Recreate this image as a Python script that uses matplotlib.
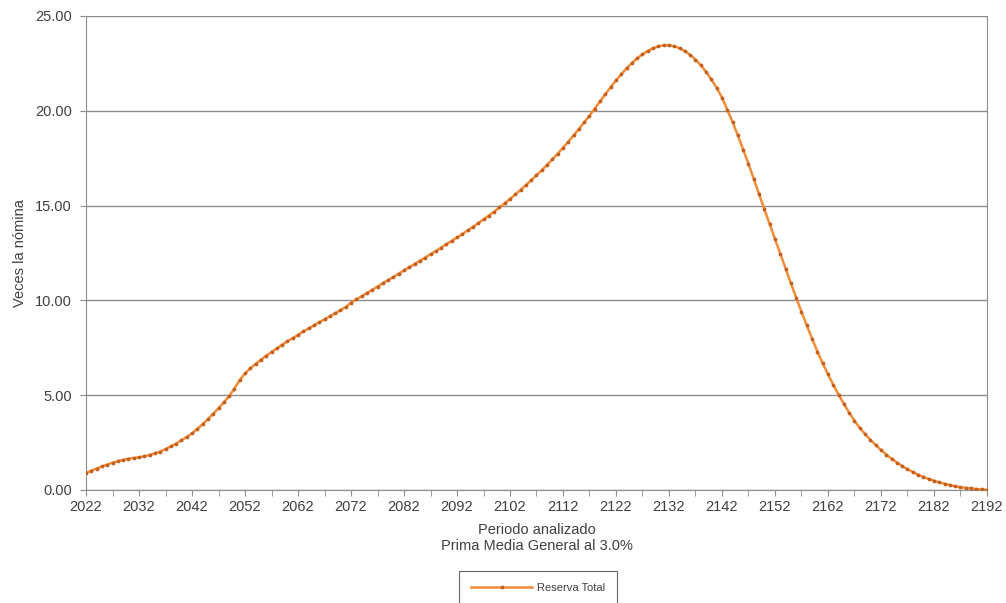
import matplotlib
matplotlib.use("Agg")
import matplotlib.pyplot as plt
from matplotlib.ticker import MultipleLocator, FormatStrFormatter

# years analysed, one point per year
years = list(range(2022, 2193))

# Reserva Total, in times the payroll
reserva_total = [
    0.90, 1.02, 1.13, 1.24, 1.34, 1.44, 1.52, 1.59, 1.65, 1.69,   # 2022-2031
    1.72, 1.78, 1.85, 1.93, 2.03, 2.16, 2.30, 2.45, 2.62, 2.80,   # 2032-2041
    2.99, 3.22, 3.47, 3.74, 4.02, 4.31, 4.62, 4.95, 5.35, 5.80,   # 2042-2051
    6.15, 6.42, 6.65, 6.87, 7.08, 7.28, 7.47, 7.66, 7.84, 8.01,   # 2052-2061
    8.18, 8.36, 8.52, 8.68, 8.84, 9.00, 9.16, 9.32, 9.48, 9.65,   # 2062-2071
    9.88, 10.05, 10.22, 10.39, 10.56, 10.73, 10.90, 11.07, 11.24, 11.41,   # 2072-2081
    11.58, 11.75, 11.92, 12.09, 12.26, 12.43, 12.60, 12.78, 12.96, 13.14,  # 2082-2091
    13.32, 13.50, 13.69, 13.88, 14.07, 14.27, 14.47, 14.68, 14.90, 15.12,  # 2092-2101
    15.35, 15.59, 15.83, 16.08, 16.34, 16.60, 16.87, 17.15, 17.44, 17.74,  # 2102-2111
    18.05, 18.37, 18.70, 19.04, 19.39, 19.75, 20.12, 20.50, 20.88, 21.25,  # 2112-2121
    21.60, 21.93, 22.24, 22.52, 22.77, 22.98, 23.16, 23.30, 23.40, 23.45,  # 2122-2131
    23.45, 23.40, 23.30, 23.15, 22.95, 22.70, 22.40, 22.05, 21.65, 21.20,  # 2132-2141
    20.70, 20.05, 19.40, 18.70, 17.95, 17.20, 16.40, 15.60, 14.80, 14.02,  # 2142-2151
    13.24, 12.46, 11.68, 10.90, 10.14, 9.40, 8.68, 7.98, 7.30, 6.68,       # 2152-2161
    6.10, 5.55, 5.03, 4.54, 4.08, 3.65, 3.27, 2.95, 2.65, 2.37,            # 2162-2171
    2.11, 1.87, 1.65, 1.45, 1.27, 1.10, 0.95, 0.81, 0.69, 0.58,            # 2172-2181
    0.49, 0.40, 0.33, 0.26, 0.20, 0.15, 0.11, 0.08, 0.05, 0.03,            # 2182-2191
    0.01,                                                                  # 2192
]
assert len(years) == len(reserva_total)

plt.rcParams["font.family"] = ["Liberation Sans", "DejaVu Sans"]
text_color = "#404040"

fig = plt.figure(figsize=(10.06, 6.03), dpi=100)
ax = fig.add_axes([0.0855, 0.1874, 0.8956, 0.7861])

ax.plot(years, reserva_total, color="#F28C38", linewidth=1.8,
        marker="o", markersize=1.7, markerfacecolor="#C4601E",
        markeredgecolor="#C4601E", label="Reserva Total", zorder=3)

ax.set_xlim(2022, 2192)
ax.set_ylim(0, 25)
ax.yaxis.set_major_locator(MultipleLocator(5))
ax.yaxis.set_major_formatter(FormatStrFormatter("%.2f"))
# labels every 10 years starting at 2022, small ticks in between
ax.set_xticks(years[::10])
ax.set_xticks(years[5::10], minor=True)

ax.grid(axis="y", color="#8c8c8c", linewidth=1.0)
ax.set_axisbelow(True)
for side in ["left", "bottom", "right"]:
    ax.spines[side].set_color("#8c8c8c")
ax.spines["top"].set_visible(False)

ax.tick_params(axis="both", which="both", colors="#8c8c8c",
               labelcolor=text_color, labelsize=10.5, length=4)
ax.tick_params(axis="y", pad=6)

ax.set_xlabel("Periodo analizado\nPrima Media General al 3.0%",
              color=text_color, fontsize=10.5, labelpad=6)
ax.set_ylabel("Veces la nómina", color=text_color, fontsize=10.5, labelpad=6)

leg = fig.legend(loc="center", bbox_to_anchor=(0.535, 0.025), frameon=True,
                 fancybox=False, fontsize=8, handlelength=5.5,
                 handletextpad=0.4, borderpad=1.1, borderaxespad=0,
                 labelcolor=text_color)
leg.get_frame().set_edgecolor("#404040")
leg.get_frame().set_linewidth(0.8)

fig.savefig("out.png", dpi=100)
